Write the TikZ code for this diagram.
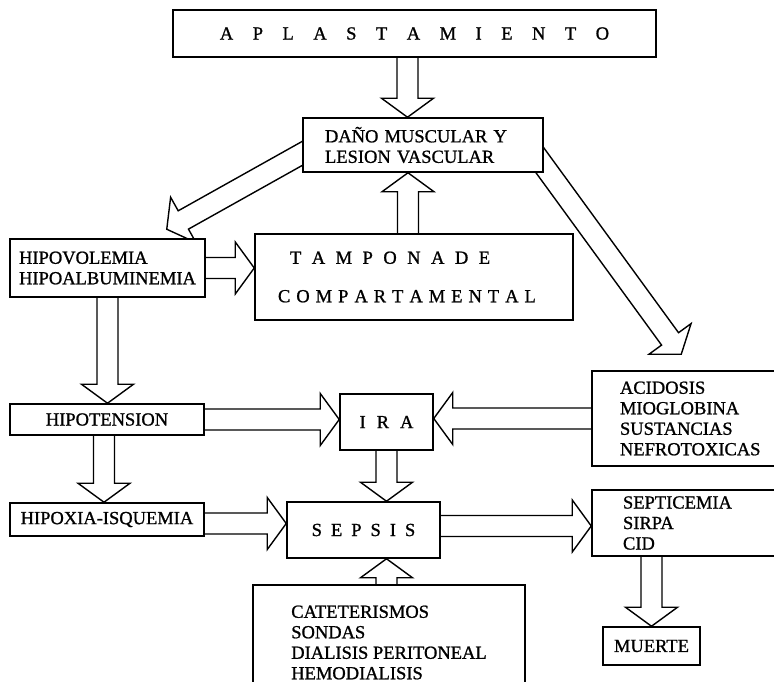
\documentclass[tikz,border=0pt]{standalone}
\usepackage{fontspec}
\setmainfont{Liberation Serif}[FakeBold=1]
\usepackage{tikz}
\usetikzlibrary{
    calc,
    positioning,
    backgrounds
}
\tikzset{box/.style={
    draw,
    fill=white,
    line width=1.5pt,
    inner sep=0pt,
    font=\fontsize{18.5}{20.5}\selectfont,
}}
\tikzset{list/.style={
    box,
    align=left,
}}
\tikzset{spaced/.style={
    execute at begin node={\spaceskip=#1\relax},
}}
\tikzset{fat/.style={
    draw,
    line width=1.4pt,
    line join=miter,
    to path={
        ($(\tikztostart)!10.5pt!90:(\tikztotarget)$)
        -- ($(\tikztotarget)!19pt!(\tikztostart)!10.5pt!-90:(\tikztostart)$)
        -- ($(\tikztotarget)!19pt!(\tikztostart)!26pt!-90:(\tikztostart)$)
        -- (\tikztotarget)
        -- ($(\tikztotarget)!19pt!(\tikztostart)!26pt!90:(\tikztostart)$)
        -- ($(\tikztotarget)!19pt!(\tikztostart)!10.5pt!90:(\tikztostart)$)
        -- ($(\tikztostart)!10.5pt!-90:(\tikztotarget)$)
    },
}}

\begin{document}
\begin{tikzpicture}[x=1pt, y=-1pt]
    \useasboundingbox (0,0) rectangle (774,682);
    \clip (0,0) rectangle (774,682);

    % boxes
    \node[box, spaced=19.5pt, minimum width=483pt, minimum height=47pt] (aplast) at (414.5,33.5) {A P L A S T A M I E N T O};
    \node[list, text width=196pt, inner xsep=22pt, minimum height=54pt] (dano) at (423,145) {DAÑO MUSCULAR Y\\LESION VASCULAR};
    \node[list, minimum width=195pt, minimum height=58pt] (hipov) at (107.5,268) {HIPOVOLEMIA\\HIPOALBUMINEMIA};
    \node[list, text width=272pt, inner xsep=23pt, minimum height=86pt] (tamp) at (414,277)
        {\hspace*{12pt}\spaceskip=10.5pt T A M P O N A D E\\[18pt]\spaceskip=6pt C O M P A R T A M E N T A L};
    \node[list, text width=170pt, inner xsep=28pt, minimum height=95pt] (acid) at (705,418.5)
        {ACIDOSIS\\MIOGLOBINA\\SUSTANCIAS\\NEFROTOXICAS};
    \node[box, minimum width=194pt, minimum height=31pt] (hipot) at (107,419.5) {HIPOTENSION};
    \node[box, spaced=11pt, minimum width=93pt, minimum height=56pt] (ira) at (386.5,422) {I R A};
    \node[box, minimum width=194pt, minimum height=33pt] (hipox) at (107,519.5) {HIPOXIA-ISQUEMIA};
    \node[box, spaced=9pt, minimum width=153pt, minimum height=56pt] (sepsis) at (363.5,530) {S E P S I S};
    \node[list, text width=170pt, inner xsep=31pt, minimum height=66pt] (septic) at (708,523)
        {SEPTICEMIA\\SIRPA\\CID};
    \node[list, minimum width=272pt, minimum height=115pt] (catet) at (389,642.5)
        {CATETERISMOS\\SONDAS\\DIALISIS PERITONEAL\\HEMODIALISIS};
    \node[box, minimum width=97pt, minimum height=38pt] (muerte) at (651.5,646) {MUERTE};

    % arrows, behind the boxes
    \begin{pgfonlayer}{background}
    \draw[fat] ([xshift=-7pt]aplast.south) to ([xshift=-7pt]aplast.south |- dano.north);
    \draw[fat] ([xshift=-6pt]tamp.north) to ([xshift=-6pt]tamp.north |- dano.south);
    \draw[fat] ([xshift=15pt]dano.west) to ([shift={(-39pt,9pt)}]hipov.north east);
    \draw[fat] ([xshift=-15pt]dano.east) to ([shift={(90pt,16pt)}]acid.north west);
    \draw[fat] (hipov.east) to (hipov.east -| tamp.west);
    \draw[fat] (hipov.south) to (hipov.south |- hipot.north);
    \draw[fat] ([xshift=-3pt]hipot.south) to ([xshift=-3pt]hipot.south |- hipox.north);
    \draw[fat] (hipot.east) to (hipot.east -| ira.west);
    \draw[fat] (acid.west) to (acid.west -| ira.east);
    \draw[fat] (ira.south) to (ira.south |- sepsis.north);
    \draw[fat] ([yshift=-4pt]hipox.east) to ([yshift=-4pt]hipox.east -| sepsis.west);
    \draw[fat] (ira.south |- catet.north) to (ira.south |- sepsis.south);
    \draw[fat] ([yshift=4pt]sepsis.east) to ([yshift=4pt]sepsis.east -| septic.west);
    \draw[fat] (septic.south -| muerte.north) to (muerte.north);
    \end{pgfonlayer}
\end{tikzpicture}
\end{document}
